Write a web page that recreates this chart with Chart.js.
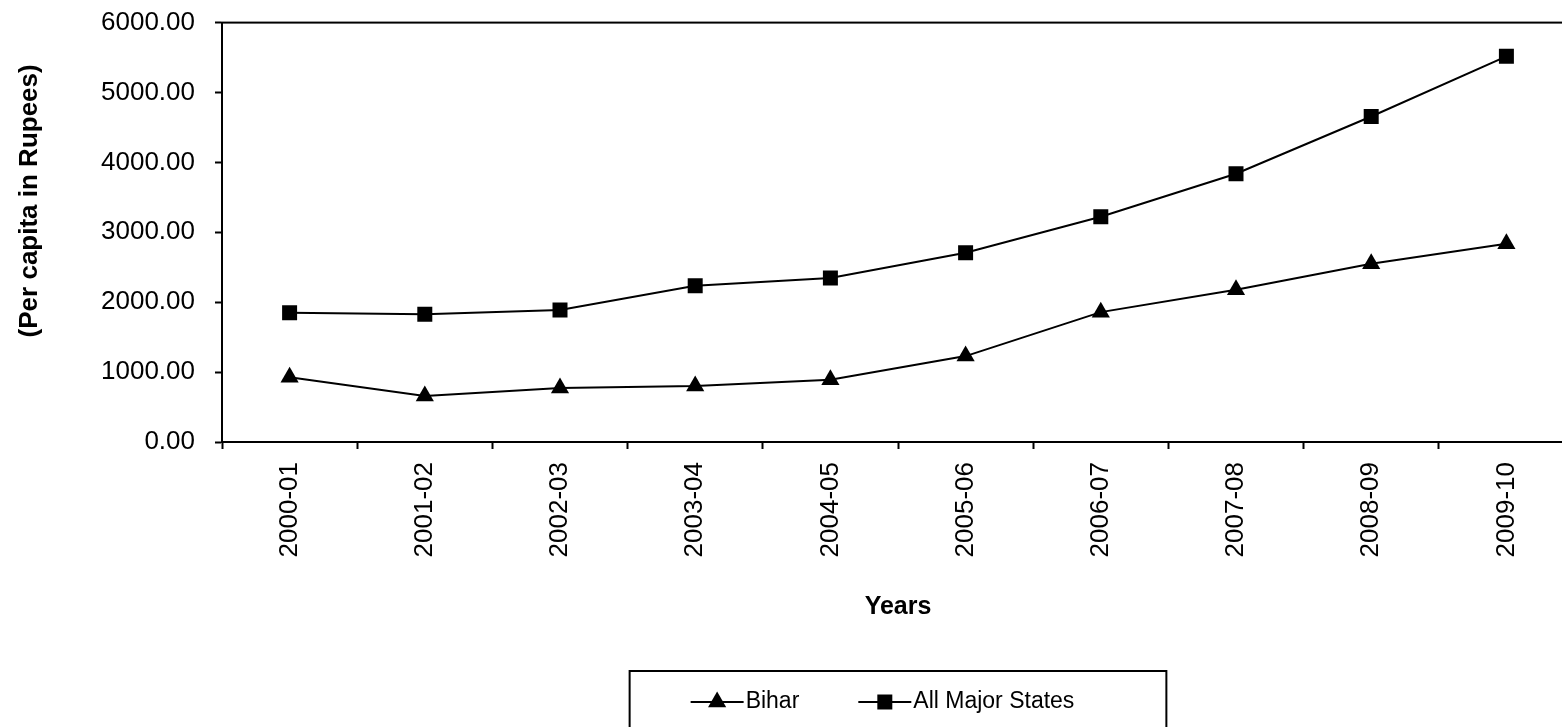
<!DOCTYPE html>
<html>
<head>
<meta charset="utf-8">
<script src="https://cdn.jsdelivr.net/npm/chart.js@4.4.1/dist/chart.umd.min.js"></script>
<style>
  html, body { margin: 0; padding: 0; background: #fff; overflow: hidden; }
  #wrap { width: 1796px; height: 780px; margin-top: -13px; }
</style>
</head>
<body>
<div id="wrap"><canvas id="js-chart-percapita" width="1796" height="780"></canvas></div>
<script>
// Chart data
const years = ['2000-01', '2001-02', '2002-03', '2003-04', '2004-05', '2005-06', '2006-07', '2007-08', '2008-09', '2009-10'];
const bihar = [925, 658, 772, 800, 892, 1229, 1858, 2178, 2550, 2836];
const allMajorStates = [1850, 1826, 1887, 2236, 2345, 2708, 3222, 3837, 4656, 5518];
const yTicks = [0, 1000, 2000, 3000, 4000, 5000, 6000];

const FONT = "'Liberation Sans', Arial, sans-serif";

// Plot border, rotated y title and the boxed legend at the bottom
const excelExtras = {
  id: 'excelExtras',
  afterDraw(chart) {
    const ctx = chart.ctx;
    const area = chart.chartArea;
    ctx.save();

    // plot area box
    ctx.strokeStyle = '#000';
    ctx.lineWidth = 2;
    ctx.strokeRect(area.left, area.top, area.right - area.left, area.bottom - area.top);

    // y axis title
    ctx.font = 'bold 26px ' + FONT;
    ctx.fillStyle = '#000';
    ctx.textAlign = 'center';
    ctx.textBaseline = 'middle';
    ctx.translate(30, area.top + (area.bottom - area.top) * 0.425);
    ctx.rotate(-Math.PI / 2);
    ctx.fillText('(Per capita in Rupees)', 0, 0);
    ctx.restore();

    // legend
    ctx.save();
    ctx.font = '23px ' + FONT;
    const padL = 61, padR = 92, symW = 53, gap = 2, itemGap = 59;
    const sets = chart.data.datasets;
    let contentW = 0;
    sets.forEach((ds, i) => {
      contentW += symW + gap + ctx.measureText(ds.label).width;
      if (i < sets.length - 1) contentW += itemGap;
    });
    const boxW = padL + contentW + padR;
    const cx = (area.left + area.right) / 2;
    const boxL = cx - boxW / 2;
    const boxT = chart.scales.x.bottom + 29;
    ctx.strokeStyle = '#000';
    ctx.lineWidth = 2;
    ctx.strokeRect(boxL, boxT, boxW, 90);

    const ty = boxT + 31;
    let x = boxL + padL;
    sets.forEach((ds) => {
      ctx.strokeStyle = '#000';
      ctx.lineWidth = 2;
      ctx.beginPath();
      ctx.moveTo(x, ty);
      ctx.lineTo(x + symW, ty);
      ctx.stroke();
      ctx.fillStyle = '#000';
      Chart.helpers.drawPoint(ctx, {pointStyle: ds.pointStyle, radius: ds.pointRadius, borderWidth: 0}, x + symW / 2, ty);
      ctx.fillStyle = '#000';
      ctx.textAlign = 'left';
      ctx.textBaseline = 'middle';
      ctx.fillText(ds.label, x + symW + gap, ty);
      x += symW + gap + ctx.measureText(ds.label).width + itemGap;
    });
    ctx.restore();
  }
};

const chartData = {
  labels: years,
  datasets: [
    {
      label: 'Bihar',
      data: bihar,
      borderColor: '#000',
      backgroundColor: '#000',
      borderWidth: 2,
      pointStyle: 'triangle',
      pointRadius: 10.5,
      pointBorderWidth: 0,
      pointBackgroundColor: '#000',
      tension: 0
    },
    {
      label: 'All Major States',
      data: allMajorStates,
      borderColor: '#000',
      backgroundColor: '#000',
      borderWidth: 2,
      pointStyle: 'rect',
      pointRadius: 10.6,
      pointBorderWidth: 0,
      pointBackgroundColor: '#000',
      tension: 0
    }
  ]
};

const chartOptions = {
  responsive: false,
  animation: false,
  events: [],
  layout: {
    padding: {top: 9.5, left: 0, right: 222, bottom: 125}
  },
  plugins: {
    legend: {display: false},
    tooltip: {enabled: false}
  },
  scales: {
    x: {
      offset: true,
      grid: {
        offset: true,
        drawOnChartArea: false,
        drawTicks: true,
        tickLength: 7,
        tickColor: '#000',
        tickWidth: 2
      },
      border: {display: true, color: '#000', width: 2},
      ticks: {
        color: '#000',
        font: {family: FONT, size: 26},
        minRotation: 90,
        maxRotation: 90,
        autoSkip: false,
        padding: 13
      },
      title: {
        display: true,
        text: 'Years',
        color: '#000',
        font: {family: FONT, size: 25, weight: 'bold'},
        padding: {top: 0, bottom: 20}
      },
      afterFit(scale) { scale.height = 200; }
    },
    y: {
      min: 0,
      max: 6000,
      grid: {
        drawOnChartArea: false,
        drawTicks: true,
        tickLength: 7,
        tickColor: '#000',
        tickWidth: 2
      },
      border: {display: true, color: '#000', width: 2},
      afterBuildTicks(scale) { scale.ticks = yTicks.map(v => ({value: v})); },
      ticks: {
        color: '#000',
        font: {family: FONT, size: 26},
        padding: 20,
        callback: (v) => Number(v).toFixed(2)
      },
      afterFit(scale) { scale.width = 222; }
    }
  }
};

new Chart(document.getElementById('js-chart-percapita'), {
  type: 'line',
  data: chartData,
  options: chartOptions,
  plugins: [excelExtras]
});
</script>
</body>
</html>
